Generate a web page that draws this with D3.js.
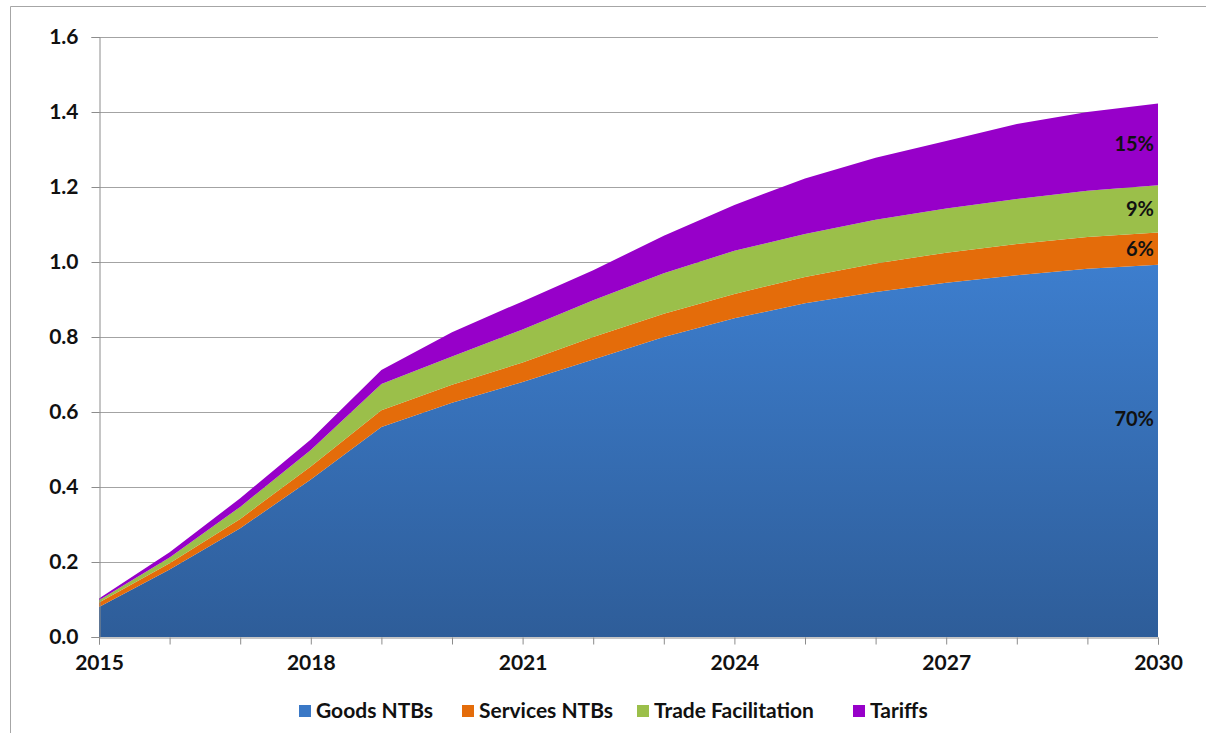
<!DOCTYPE html>
<html>
<head>
<meta charset="utf-8">
<script src="https://cdn.jsdelivr.net/npm/d3@7"></script>
<style>
  body { margin: 0; background: #fff; }
  text { font-family: Lato, "Open Sans", sans-serif; font-weight: bold; }
</style>
</head>
<body>
<div id="chart"></div>
<script>
var years = [2015, 2016, 2017, 2018, 2019, 2020, 2021, 2022, 2023, 2024, 2025, 2026, 2027, 2028, 2029, 2030];
var seriesNames = ["Goods NTBs", "Services NTBs", "Trade Facilitation", "Tariffs"];
var goods = [0.08, 0.18, 0.29, 0.42, 0.56, 0.625, 0.68, 0.74, 0.80, 0.85, 0.89, 0.92, 0.945, 0.965, 0.982, 0.993];
var services = [0.012, 0.017, 0.025, 0.035, 0.045, 0.048, 0.052, 0.06, 0.062, 0.065, 0.07, 0.076, 0.08, 0.083, 0.085, 0.086];
var tradeFac = [0.006, 0.015, 0.032, 0.044, 0.07, 0.075, 0.088, 0.098, 0.108, 0.115, 0.115, 0.117, 0.118, 0.12, 0.123, 0.126];
var tariffs = [0.005, 0.014, 0.023, 0.028, 0.037, 0.065, 0.075, 0.08, 0.10, 0.122, 0.148, 0.165, 0.18, 0.2, 0.21, 0.218];
var shareLabels = ["70%", "6%", "9%", "15%"];
var yTicks = [0, 0.2, 0.4, 0.6, 0.8, 1.0, 1.2, 1.4, 1.6];
var xLabelYears = [2015, 2018, 2021, 2024, 2027, 2030];

var colors = ["#3a78c6", "#e46c0a", "#9bbf4a", "#9700c9"];

var W = 1206, H = 733;
var m = {left: 99, right: 1158, top: 37, bottom: 637};

var svg = d3.select("#chart").append("svg")
  .attr("width", W).attr("height", H);

// outer frame (only top and left edges are visible)
svg.append("line").attr("x1", 10.5).attr("x2", W).attr("y1", 6.5).attr("y2", 6.5)
  .attr("stroke", "#a6a6a6");
svg.append("line").attr("x1", 10.5).attr("x2", 10.5).attr("y1", 6.5).attr("y2", H)
  .attr("stroke", "#a6a6a6");

var x = d3.scaleLinear().domain([2015, 2030]).range([m.left, m.right]);
var y = d3.scaleLinear().domain([0, 1.6]).range([m.bottom, m.top]);

var table = years.map((yr, i) => ({
  year: yr, "Goods NTBs": goods[i], "Services NTBs": services[i],
  "Trade Facilitation": tradeFac[i], "Tariffs": tariffs[i]
}));
var stacked = d3.stack().keys(seriesNames)(table);

// gradient for the blue area
var defs = svg.append("defs");
var grad = defs.append("linearGradient").attr("id", "blueGrad")
  .attr("gradientUnits", "userSpaceOnUse")
  .attr("x1", 0).attr("x2", 0).attr("y1", y(1.0)).attr("y2", m.bottom);
grad.append("stop").attr("offset", "0%").attr("stop-color", "#3d7ece");
grad.append("stop").attr("offset", "100%").attr("stop-color", "#2e5d99");

// gridlines
svg.append("g")
  .selectAll("line")
  .data(yTicks.slice(1))
  .join("line")
    .attr("x1", m.left).attr("x2", m.right)
    .attr("y1", d => Math.round(y(d)) + 0.5).attr("y2", d => Math.round(y(d)) + 0.5)
    .attr("stroke", "#a3a3a3").attr("stroke-width", 1);

var area = d3.area()
  .x(d => x(d.data.year))
  .y0(d => y(d[0]))
  .y1(d => y(d[1]));

svg.append("g")
  .selectAll("path")
  .data(stacked)
  .join("path")
    .attr("fill", (d, i) => i == 0 ? "url(#blueGrad)" : colors[i])
    .attr("d", area);

// y axis
var yAxis = svg.append("g")
  .attr("transform", "translate(" + (m.left + 0.5) + ",0)")
  .call(d3.axisLeft(y).tickValues(yTicks).tickFormat(d3.format(".1f")).tickSize(8).tickPadding(13));
yAxis.select(".domain").attr("stroke", "#8c8c8c");
yAxis.selectAll(".tick line").attr("stroke", "#8c8c8c");
yAxis.selectAll("text").attr("font-size", 21).attr("fill", "#111")
  .style("font-family", "Lato, sans-serif").style("font-weight", "bold");

// x axis
var xAxis = svg.append("g")
  .attr("transform", "translate(0," + (m.bottom + 0.5) + ")")
  .call(d3.axisBottom(x).tickValues(years).tickSize(7).tickPadding(11)
    .tickFormat(d => xLabelYears.includes(d) ? d : ""));
xAxis.select(".domain").attr("stroke", "#8c8c8c");
xAxis.selectAll(".tick line").attr("stroke", "#8c8c8c");
xAxis.selectAll("text").attr("font-size", 21).attr("fill", "#111")
  .style("font-family", "Lato, sans-serif").style("font-weight", "bold");

// share labels at the last year
var last = stacked.map(s => s[s.length - 1]);
svg.append("g")
  .selectAll("text")
  .data(last)
  .join("text")
    .attr("x", x(2030) - 4)
    .attr("y", (d, i) => i == 0 ? y(d[0] + (d[1] - d[0]) * 0.585) : y((d[0] + d[1]) / 2))
    .attr("dy", "0.35em")
    .attr("text-anchor", "end")
    .attr("font-size", 20)
    .attr("fill", "#111")
    .text((d, i) => shareLabels[i]);

// legend
var legendX = [299, 462, 637, 853];
var legend = svg.append("g")
  .selectAll("g")
  .data(seriesNames)
  .join("g")
    .attr("transform", (d, i) => "translate(" + legendX[i] + ",711)");
legend.append("rect")
  .attr("x", 0).attr("y", -6).attr("width", 12).attr("height", 12)
  .attr("fill", (d, i) => colors[i]);
legend.append("text")
  .attr("x", 17).attr("dy", "0.35em")
  .attr("font-size", 21).attr("fill", "#111")
  .text(d => d);
</script>
</body>
</html>
